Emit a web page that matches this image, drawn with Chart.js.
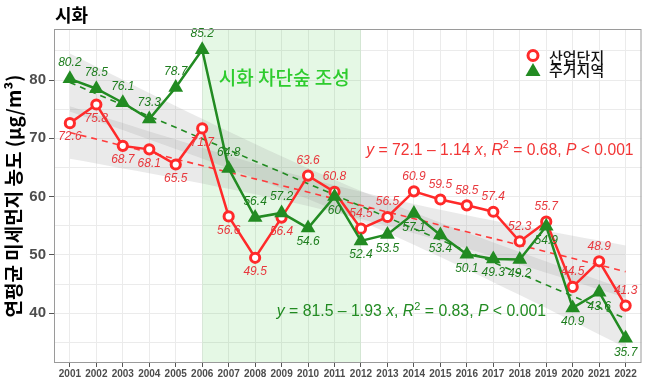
<!DOCTYPE html>
<html>
<head>
<meta charset="utf-8">
<script src="https://cdn.jsdelivr.net/npm/chart.js@4"></script>
<style>
  html, body { margin: 0; padding: 0; background: #fff; }
  #wrap { width: 650px; height: 380px; position: relative; }
</style>
</head>
<body>
<div id="wrap"><canvas id="chart"></canvas></div>
<script>
// data
const years = [2001, 2002, 2003, 2004, 2005, 2006, 2007, 2008, 2009, 2010, 2011,
  2012, 2013, 2014, 2015, 2016, 2017, 2018, 2019, 2020, 2021, 2022];
const industrial = [72.6, 75.8, 68.7, 68.1, 65.5, 71.7, 56.6, 49.5, 56.4, 63.6, 60.8,
  54.5, 56.5, 60.9, 59.5, 58.5, 57.4, 52.3, 55.7, 44.5, 48.9, 41.3];
const residential = [80.2, 78.5, 76.1, 73.3, 78.7, 85.2, 64.8, 56.4, 57.2, 54.6, 60,
  52.4, 53.5, 57.1, 53.4, 50.1, 49.3, 49.2, 54.9, 40.9, 43.6, 35.7];
const seriesNames = ["산업단지", "주거지역"];
const yTickLabels = [40, 50, 60, 70, 80];
const forestYears = [2006, 2012];
const forestLabel = "시화 차단숲 조성";

const FONT = "'Liberation Sans', 'Noto Sans CJK KR', sans-serif";
const RED = "#ff2a2a";
const GREEN = "#228b22";

// linear fit with 95% confidence band (x = 1..n), like geom_smooth(method = lm)
function linFit(ys) {
  const n = ys.length;
  const xs = ys.map((_, i) => i + 1);
  const xbar = xs.reduce((a, b) => a + b, 0) / n;
  const ybar = ys.reduce((a, b) => a + b, 0) / n;
  let sxx = 0, sxy = 0;
  xs.forEach((x, i) => { sxx += (x - xbar) ** 2; sxy += (x - xbar) * (ys[i] - ybar); });
  const b = sxy / sxx;
  const a = ybar - b * xbar;
  let sse = 0;
  xs.forEach((x, i) => { sse += (ys[i] - (a + b * x)) ** 2; });
  const s = Math.sqrt(sse / (n - 2));
  const t = 2.086;
  const line = [], lower = [], upper = [];
  for (let yr = years[0]; yr <= years[n - 1] + 0.001; yr += 0.5) {
    const x = yr - years[0] + 1;
    const yhat = a + b * x;
    const se = s * Math.sqrt(1 / n + (x - xbar) ** 2 / sxx);
    lower.push({ x: yr, y: yhat - t * se });
    upper.push({ x: yr, y: yhat + t * se });
  }
  line.push({ x: years[0], y: a + b });
  line.push({ x: years[n - 1], y: a + b * n });
  return { line, lower, upper };
}

const redFit = linFit(industrial);
const greenFit = linFit(residential);

const bandStyle = { pointRadius: 0, borderWidth: 0, showLine: true, tension: 0 };

// shaded forest period + its label
const forestPlugin = {
  id: "forest",
  beforeDatasetsDraw(chart) {
    const { ctx, chartArea, scales } = chart;
    const x0 = scales.x.getPixelForValue(forestYears[0]);
    const x1 = scales.x.getPixelForValue(forestYears[1]);
    ctx.save();
    ctx.fillStyle = "rgba(40, 200, 40, 0.12)";
    ctx.fillRect(x0, chartArea.top, x1 - x0, chartArea.bottom - chartArea.top);
    ctx.restore();
  },
  afterDatasetsDraw(chart) {
    const { ctx, scales } = chart;
    ctx.save();
    ctx.font = "500 19px 'Noto Sans CJK KR', sans-serif";
    ctx.fillStyle = "#2ecc2e";
    ctx.textAlign = "center";
    ctx.textBaseline = "middle";
    ctx.fillText(forestLabel, scales.x.getPixelForValue(2009.1), scales.y.getPixelForValue(80.3));
    ctx.restore();
  }
};

// value labels, equations, legend, panel border, title
function drawRich(ctx, parts, x, y, size, color) {
  ctx.fillStyle = color;
  ctx.textBaseline = "middle";
  ctx.textAlign = "left";
  parts.forEach(p => {
    if (p.sup) {
      ctx.font = (size * 0.7) + "px " + FONT;
      ctx.fillText(p.t, x, y - size * 0.35);
    } else {
      ctx.font = (p.i ? "italic " : "") + size + "px " + FONT;
      ctx.fillText(p.t, x, y);
    }
    x += ctx.measureText(p.t).width;
  });
}

const annotatePlugin = {
  id: "annotate",
  afterDatasetsDraw(chart) {
    const { ctx, scales, chartArea } = chart;
    const sx = scales.x, sy = scales.y;
    ctx.save();
    ctx.font = "italic 12px " + FONT;
    ctx.textAlign = "center";
    ctx.textBaseline = "middle";
    years.forEach((yr, i) => {
      const x = sx.getPixelForValue(yr);
      const early = yr <= 2009;
      ctx.fillStyle = "#e8383d";
      ctx.fillText(String(industrial[i]), x, sy.getPixelForValue(industrial[i]) + (early ? 14 : -15));
      ctx.fillStyle = "#1e7d1e";
      ctx.fillText(String(residential[i]), x, sy.getPixelForValue(residential[i]) + (early ? -16 : 14));
    });

    drawRich(ctx, [
      { t: "y", i: true }, { t: " = 72.1 – 1.14 " }, { t: "x", i: true }, { t: ", " },
      { t: "R", i: true }, { t: "2", sup: true }, { t: " = 0.68, " }, { t: "P", i: true }, { t: " < 0.001" }
    ], sx.getPixelForValue(2012.2), sy.getPixelForValue(67.9), 15.7, "#f23535");
    drawRich(ctx, [
      { t: "y", i: true }, { t: " = 81.5 – 1.93 " }, { t: "x", i: true }, { t: ", " },
      { t: "R", i: true }, { t: "2", sup: true }, { t: " = 0.83, " }, { t: "P", i: true }, { t: " < 0.001" }
    ], sx.getPixelForValue(2008.82), sy.getPixelForValue(40.2), 15.8, GREEN);

    // legend
    ctx.lineWidth = 3;
    ctx.strokeStyle = RED;
    ctx.fillStyle = "#fff";
    ctx.beginPath();
    ctx.arc(533, 55.5, 5, 0, Math.PI * 2);
    ctx.fill();
    ctx.stroke();
    ctx.fillStyle = GREEN;
    ctx.beginPath();
    ctx.moveTo(533, 63);
    ctx.lineTo(540.5, 76);
    ctx.lineTo(525.5, 76);
    ctx.closePath();
    ctx.fill();
    ctx.fillStyle = "#111";
    ctx.font = "500 15px 'Noto Sans CJK KR', sans-serif";
    ctx.textAlign = "left";
    ctx.fillText(seriesNames[0], 549, 57);
    ctx.fillText(seriesNames[1], 549, 70);

    // panel border
    ctx.strokeStyle = "#9a9a9a";
    ctx.lineWidth = 1;
    ctx.strokeRect(chartArea.left + 0.5, chartArea.top + 0.5,
      chartArea.right - chartArea.left - 1, chartArea.bottom - chartArea.top - 1);

    // title
    ctx.fillStyle = "#000";
    ctx.font = "bold 18px 'Noto Sans CJK KR', sans-serif";
    ctx.fillText("시화", 55, 15);
    ctx.restore();
  }
};

const ctx = document.getElementById("chart").getContext("2d");
new Chart(ctx, {
  type: "scatter",
  data: {
    datasets: [
      { data: redFit.lower, backgroundColor: "rgba(150,150,150,0.2)", fill: false, order: 5, ...bandStyle },
      { data: redFit.upper, backgroundColor: "rgba(150,150,150,0.2)", fill: "-1", order: 5, ...bandStyle },
      { data: greenFit.lower, backgroundColor: "rgba(150,150,150,0.2)", fill: false, order: 5, ...bandStyle },
      { data: greenFit.upper, backgroundColor: "rgba(150,150,150,0.2)", fill: "-1", order: 5, ...bandStyle },
      {
        data: redFit.line, showLine: true, pointRadius: 0, borderColor: "#ff3b3b",
        borderWidth: 1.6, borderDash: [6, 5], order: 4
      },
      {
        data: greenFit.line, showLine: true, pointRadius: 0, borderColor: GREEN,
        borderWidth: 1.6, borderDash: [6, 5], order: 4
      },
      {
        label: seriesNames[0],
        data: years.map((yr, i) => ({ x: yr, y: industrial[i] })),
        showLine: true, borderColor: RED, borderWidth: 2.5,
        pointStyle: "circle", pointRadius: 4.6, pointBorderWidth: 3,
        pointBackgroundColor: "#fff", pointBorderColor: RED, order: 2
      },
      {
        label: seriesNames[1],
        data: years.map((yr, i) => ({ x: yr, y: residential[i] })),
        showLine: true, borderColor: GREEN, borderWidth: 2.5,
        pointStyle: "triangle", pointRadius: 8.5, pointBorderWidth: 0,
        pointBackgroundColor: GREEN, pointBorderColor: GREEN, order: 1
      }
    ]
  },
  options: {
    responsive: true,
    maintainAspectRatio: false,
    animation: false,
    layout: { padding: { top: 29, right: 3, left: 0, bottom: 0 } },
    plugins: {
      legend: { display: false },
      tooltip: { enabled: false }
    },
    scales: {
      x: {
        type: "linear",
        min: 2000.4,
        max: 2022.6,
        afterBuildTicks: (scale) => { scale.ticks = years.map(v => ({ value: v })); },
        afterFit: (scale) => { scale.height = 17; },
        border: { display: false },
        grid: { color: "#ebebeb", tickColor: "#555", tickLength: 4 },
        ticks: {
          autoSkip: false, maxRotation: 0, padding: 1,
          color: "#4d4d4d", font: { family: FONT, size: 10, weight: "bold" },
          callback: (v) => String(v)
        }
      },
      y: {
        min: 31.45,
        max: 88.75,
        afterBuildTicks: (scale) => {
          const t = [];
          for (let v = 35; v <= 85; v += 5) t.push({ value: v });
          scale.ticks = t;
        },
        afterFit: (scale) => { scale.width = 54; },
        border: { display: false },
        grid: {
          color: "#ebebeb", tickLength: 5,
          tickColor: (c) => (yTickLabels.includes(c.tick.value) ? "#555" : "rgba(0,0,0,0)")
        },
        ticks: {
          padding: 3,
          color: "#4d4d4d", font: { family: FONT, size: 15, weight: "bold" },
          callback: (v) => (yTickLabels.includes(v) ? String(v) : "")
        },
        title: {
          display: true,
          text: "연평균 미세먼지 농도 (μg/m³)",
          color: "#000",
          padding: { top: 2, bottom: 0 },
          font: { family: "'Noto Sans CJK KR', sans-serif", size: 19, weight: "bold" }
        }
      }
    }
  },
  plugins: [forestPlugin, annotatePlugin]
});
</script>
</body>
</html>
